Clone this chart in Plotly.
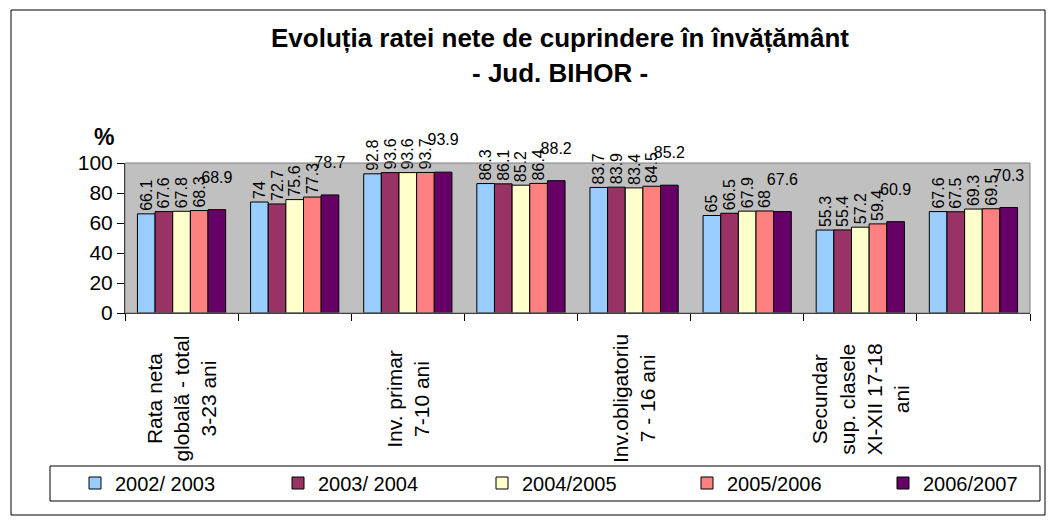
import plotly.graph_objects as go

categories = ["Rata neta<br>globală - total<br>3-23 ani", "Preşcolar<br>3-6 ani",
              "Inv. primar<br>7-10 ani", "Gimnazial<br>11-14 ani",
              "Inv.obligatoriu<br>7 - 16 ani", "Secundar<br>15-18 ani",
              "Secundar<br>sup. clasele<br>XI-XII 17-18<br>ani", "Terţiar<br>19-23 ani"]
shown = [True, False, True, False, True, False, True, False]
series_names = ["2002/ 2003", "2003/ 2004", "2004/2005", "2005/2006", "2006/2007"]
values = {
    "2002/ 2003": [66.1, 74.0, 92.8, 86.3, 83.7, 65.0, 55.3, 67.6],
    "2003/ 2004": [67.6, 72.7, 93.6, 86.1, 83.9, 66.5, 55.4, 67.5],
    "2004/2005": [67.8, 75.6, 93.6, 85.2, 83.4, 67.9, 57.2, 69.3],
    "2005/2006": [68.3, 77.3, 93.7, 86.4, 84.5, 68.0, 59.4, 69.5],
    "2006/2007": [68.9, 78.7, 93.9, 88.2, 85.2, 67.6, 60.9, 70.3],
}
colors = ["#99CCFF", "#993366", "#FFFFCC", "#FF8080", "#660066"]
label_angles = [-90, -90, -90, -90, 0]

FONT = "Liberation Sans, Arial, sans-serif"

# page body has an 8px margin; figure is sized so the page fits the window
OFF = 8
W, H = 1040, 511
L, T = 117, 155
pw, ph = 905, 150
R, B = W - L - pw, H - T - ph


def sx(x):
    """screen x (window pixels) -> paper fraction"""
    return (x - OFF - L) / pw


def sy(y):
    """screen y (window pixels) -> paper fraction"""
    return (H - B - (y - OFF)) / ph


legend_ids = ["legend", "legend2", "legend3", "legend4", "legend5"]
legend_x = [75, 278, 482, 687, 883]

fig = go.Figure()
for name, col, ang, lid in zip(series_names, colors, label_angles, legend_ids):
    v = values[name]
    # horizontal labels sit higher above the bar (blank line below the value)
    labels = [f"{x:g}" if ang != 0 else f"{x:g}<br> " for x in v]
    fig.add_trace(go.Bar(
        x=categories, y=v, name=name, legend=lid,
        marker=dict(color=col, line=dict(color="black", width=1)),
        text=labels, textposition="outside", textangle=ang,
        textfont=dict(family=FONT, size=16, color="black"),
        constraintext="none", cliponaxis=False,
    ))

legends = {}
for lid, lx in zip(legend_ids, legend_x):
    legends[lid] = dict(orientation="h", x=sx(lx), y=sy(483), xanchor="left", yanchor="middle",
                        font=dict(family=FONT, size=20), bgcolor="rgba(0,0,0,0)",
                        borderwidth=0)

annotations = [
    dict(text="<b>Evoluția ratei nete de cuprindere în învățământ</b>", xref="paper", yref="paper",
         x=sx(560), y=sy(38), xanchor="center", yanchor="middle",
         showarrow=False, font=dict(family=FONT, size=26)),
    dict(text="<b>- Jud. BIHOR -</b>", xref="paper", yref="paper",
         x=sx(560), y=sy(73), xanchor="center", yanchor="middle",
         showarrow=False, font=dict(family=FONT, size=26)),
    dict(text="<b>%</b>", xref="paper", yref="paper",
         x=sx(104), y=sy(137), xanchor="center", yanchor="middle",
         showarrow=False, font=dict(family=FONT, size=23)),
]
for c, s in zip(categories, shown):
    if s:
        annotations.append(dict(text=c, xref="x", yref="paper", x=c, y=sy(399),
                                xanchor="center", yanchor="middle", textangle=-90,
                                align="center", showarrow=False,
                                font=dict(family=FONT, size=21)))

fig.update_layout(
    width=W, height=H,
    margin=dict(l=L, r=R, t=T, b=B, autoexpand=False),
    paper_bgcolor="white", plot_bgcolor="#C0C0C0",
    barmode="group", bargap=0.22, bargroupgap=0,
    font=dict(family=FONT, color="black"),
    showlegend=True,
    xaxis=dict(tickvals=categories, showticklabels=False,
               tickson="boundaries", ticks="outside", ticklen=7,
               tickcolor="black", showline=True, linecolor="black", linewidth=1,
               automargin=False, showgrid=False),
    yaxis=dict(range=[0, 100], dtick=20, ticks="outside", ticklen=7, tickcolor="black",
               showline=True, linecolor="black", linewidth=1, showgrid=False,
               tickfont=dict(family=FONT, size=21), automargin=False, zeroline=False),
    shapes=[
        dict(type="rect", xref="paper", yref="paper", x0=0, x1=1, y0=0, y1=1,
             line=dict(color="#808080", width=1), layer="above"),
        dict(type="rect", xref="paper", yref="paper", x0=sx(50), x1=sx(1040),
             y0=sy(501), y1=sy(466), fillcolor="white",
             line=dict(color="black", width=1), layer="above"),
        dict(type="rect", xref="paper", yref="paper", x0=sx(11), x1=sx(1045),
             y0=sy(515), y1=sy(10), line=dict(color="black", width=1), layer="below"),
    ],
    annotations=annotations,
    **legends,
)

fig.write_html("out.html")
